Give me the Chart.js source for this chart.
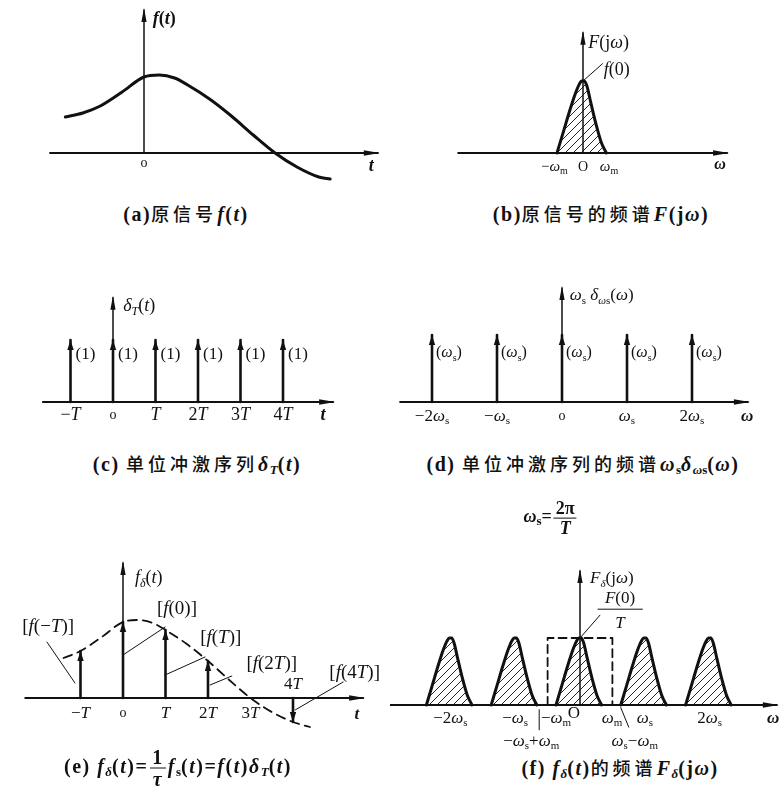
<!DOCTYPE html>
<html>
<head>
<meta charset="utf-8">
<script src="https://cdn.jsdelivr.net/npm/chart.js@4/dist/chart.umd.min.js"></script>
<style>
  body { margin: 0; background: #fff; }
  #page { position: relative; width: 782px; height: 791px; overflow: hidden; background: #fff; }
  canvas { position: absolute; }
  .cap { position: absolute; transform: translate(-50%, -50%); white-space: nowrap; color: #111;
         font-family: "Liberation Serif", serif; font-size: 20px; font-weight: bold; letter-spacing: 1.5px; }
  .cap .zh { font-family: "Noto Sans CJK SC", sans-serif; font-size: 18px; letter-spacing: 4px; font-weight: 500; }
  .cap i { font-style: italic; }
  .cap sub { font-size: 13px; vertical-align: -3px; letter-spacing: 0; }
  .frac { display: inline-block; vertical-align: middle; text-align: center; line-height: 1.05; margin: 0 2px; }
  .frac span { display: block; }
  .frac .num { border-bottom: 1px solid #111; padding: 0 2px; }
</style>
</head>
<body>
<div id="page">
  <canvas id="ca" width="390" height="195" style="left:0;top:0"></canvas>
  <canvas id="cb" width="392" height="195" style="left:390px;top:0"></canvas>
  <canvas id="cc" width="390" height="195" style="left:0;top:240px"></canvas>
  <canvas id="cd" width="392" height="195" style="left:390px;top:240px"></canvas>
  <canvas id="ce" width="390" height="230" style="left:0;top:520px"></canvas>
  <canvas id="cf" width="392" height="230" style="left:390px;top:520px"></canvas>

  <div class="cap" style="left:186px;top:213px">(a)<span class="zh">原信号</span><i>f</i>(<i>t</i>)</div>
  <div class="cap" style="left:601px;top:213px">(b)<span class="zh">原信号的频谱</span><i>F</i>(j<i>ω</i>)</div>
  <div class="cap" style="left:197px;top:464px">(c) <span class="zh">单位冲激序列</span><i>δ</i><sub><i>T</i></sub>(<i>t</i>)</div>
  <div class="cap" style="left:583px;top:464px">(d) <span class="zh">单位冲激序列的频谱</span><i>ω</i><sub>s</sub><i>δ</i><sub><i>ω</i>s</sub>(<i>ω</i>)</div>
  <div class="cap" style="left:551px;top:518px;font-size:18px;letter-spacing:0"><i>ω</i><sub>s</sub>=<span class="frac"><span class="num">2π</span><span><i>T</i></span></span></div>
  <div class="cap" style="left:178px;top:768px">(e) <i>f</i><sub><i>δ</i></sub>(<i>t</i>)=<span class="frac"><span class="num">1</span><span><i>τ</i></span></span><i>f</i><sub>s</sub>(<i>t</i>)=<i>f</i>(<i>t</i>)<i>δ</i><sub><i>T</i></sub>(<i>t</i>)</div>
  <div class="cap" style="left:620px;top:768px">(f) <i>f</i><sub><i>δ</i></sub>(<i>t</i>)<span class="zh">的频谱</span><i>F</i><sub><i>δ</i></sub>(j<i>ω</i>)</div>
</div>
<script>
const INK = "#111";

// original signal f(t), t in units of T
const curveT = [-1.8, -1.4, -1.0, -0.5, 0, 0.35, 0.7, 1.0, 1.5, 2.0, 2.5, 3.0, 3.5, 4.0, 4.4];
const curveF = [36, 40, 47, 61, 76, 78, 75, 68, 54, 37, 18, 0, -14, -24, -29];

// spectrum bump F(jw), w in units of wm, height in units of F(0)
const bumpW = [-1.0, -0.75, -0.5, -0.3, -0.15, -0.05, 0.05, 0.15, 0.3, 0.5, 0.7, 0.9];
const bumpF = [0, 0.3, 0.6, 0.82, 0.95, 1.0, 1.0, 0.93, 0.7, 0.4, 0.15, 0];

// unit impulse train
const combT = [-1, 0, 1, 2, 3, 4];
const combV = [1, 1, 1, 1, 1, 1];
const combTicks = ["−T", "o", "T", "2T", "3T", "4T"];

// spectrum of the impulse train (units of ws)
const lineK = [-2, -1, 0, 1, 2];
const lineV = [1, 1, 1, 1, 1];
const lineTicks = ["−2ω_s", "−ω_s", "o", "ω_s", "2ω_s"];

// samples f(nT)
const sampT = [-1, 0, 1, 2, 3, 4];
const sampF = [47, 76, 68, 37, 0, -24];
const sampTicks = ["−T", "o", "T", "2T", "3T"];

// sampled spectrum: copies every ws (ws in units of wm)
const ws = 2.7;
const repK = [-2, -1, 0, 1, 2];
const fTicks = [-2 * ws, -ws, -1, 0, 1, ws, 2 * ws];
const fTickLabels = ["−2ω_s", "−ω_s", "−ω_m", "O", "ω_m", "ω_s", "2ω_s"];

// ---------- drawing helpers ----------
const ITAL = /[A-Za-zωδτ]/;
function parseMath(s) {
  const segs = [];
  let i = 0;
  while (i < s.length) {
    let sub = false, ch;
    if (s[i] === "_") {
      sub = true; i++;
      if (s[i] === "{") { const j = s.indexOf("}", i); ch = s.slice(i + 1, j); i = j + 1; }
      else { ch = s[i]; i++; }
    } else { ch = s[i]; i++; }
    for (const c of ch) {
      let it = ITAL.test(c) && !"jOo".includes(c);
      if (sub && !"Tδω".includes(c)) it = false;
      segs.push({ c, sub, it });
    }
  }
  return segs;
}
function drawMath(ctx, s, x, y, size, align, bold) {
  const segs = parseMath(s);
  const fontOf = g => (g.it ? "italic " : "") + (bold ? "bold " : "") +
    (g.sub ? Math.round(size * 0.64) : size) + 'px "Liberation Serif"';
  let w = 0;
  segs.forEach(g => { ctx.font = fontOf(g); g.w = ctx.measureText(g.c).width; w += g.w; });
  let cx = align === "center" ? x - w / 2 : align === "right" ? x - w : x;
  ctx.textAlign = "left";
  ctx.textBaseline = "alphabetic";
  const base = y + size * 0.33;
  segs.forEach(g => {
    ctx.font = fontOf(g);
    ctx.fillText(g.c, cx, base + (g.sub ? size * 0.22 : 0));
    cx += g.w;
  });
}
function seg(ctx, x1, y1, x2, y2, w) {
  ctx.lineWidth = w;
  ctx.beginPath(); ctx.moveTo(x1, y1); ctx.lineTo(x2, y2); ctx.stroke();
}
function arrow(ctx, x, y, dx, dy, len, half) {
  ctx.beginPath();
  ctx.moveTo(x, y);
  ctx.lineTo(x - dx * len - dy * half, y - dy * len + dx * half);
  ctx.lineTo(x - dx * len + dy * half, y - dy * len - dx * half);
  ctx.closePath(); ctx.fill();
}

function sketchPlugin(o) {
  return {
    id: "sketch",
    afterDatasetsDraw(chart) {
      const ctx = chart.ctx;
      const X = v => chart.scales.x.getPixelForValue(v);
      const Y = v => chart.scales.y.getPixelForValue(v);
      ctx.save();
      ctx.strokeStyle = INK; ctx.fillStyle = INK; ctx.lineCap = "round";
      // axes
      seg(ctx, X(o.xAxis[0]), Y(0), X(o.xAxis[1]), Y(0), 2);
      arrow(ctx, X(o.xAxis[1]) + 2, Y(0), 1, 0, 16, 2.8);
      seg(ctx, X(0), Y(o.yAxis[0]), X(0), Y(o.yAxis[1]), 1.5);
      arrow(ctx, X(0), Y(o.yAxis[1]) - 2, 0, -1, 14, 2.6);
      // impulses
      if (o.imp) {
        o.imp.xs.forEach((t, i) => {
          const v = o.imp.vs[i];
          if (!v) return;
          const d = v > 0 ? -1 : 1;
          seg(ctx, X(t), Y(0), X(t), Y(v), 2.6);
          arrow(ctx, X(t), Y(v), 0, d, 10, 3.2);
        });
      }
      // leader lines
      (o.leaders || []).forEach(l => seg(ctx, X(l[0]), Y(l[1]), X(l[2]), Y(l[3]), l[4] || 1));
      // tick labels
      (o.ticks || []).forEach(t => drawMath(ctx, t.s, X(t.x) + (t.dx || 0), Y(0) + t.dy, t.size || 16, "center", t.bold));
      // notes
      (o.notes || []).forEach(n => drawMath(ctx, n.s, X(n.x) + (n.dx || 0), Y(n.y), n.size || 16, n.align || "left", n.bold));
      ctx.restore();
    }
  };
}

function hatch(canvas) {
  const p = document.createElement("canvas");
  p.width = p.height = 8;
  const g = p.getContext("2d");
  g.strokeStyle = INK; g.lineWidth = 0.9;
  g.beginPath();
  g.moveTo(0, 8); g.lineTo(8, 0);
  g.moveTo(-1, 1); g.lineTo(1, -1);
  g.moveTo(7, 9); g.lineTo(9, 7);
  g.stroke();
  return canvas.getContext("2d").createPattern(p, "repeat");
}

const xy = (xs, ys, dx = 0) => xs.map((x, i) => ({ x: x + dx, y: ys[i] }));
function lineDs(data, extra) {
  return Object.assign({ data, showLine: true, pointRadius: 0, borderColor: INK, borderWidth: 3,
    tension: 0, fill: false, borderCapStyle: "round", borderJoinStyle: "round" }, extra);
}

function panel(id, g, datasets, sk) {
  const c = document.getElementById(id);
  const w = c.width, h = c.height;
  new Chart(c, {
    type: "scatter",
    data: { datasets: datasets(c) },
    options: {
      responsive: false, animation: false, events: [],
      layout: { padding: 0 },
      plugins: { legend: { display: false }, tooltip: { enabled: false } },
      scales: {
        x: { type: "linear", display: false, min: -g.ox / g.ux, max: (w - g.ox) / g.ux },
        y: { type: "linear", display: false, min: -(h - g.oy) / g.uy, max: g.oy / g.uy }
      }
    },
    plugins: [sketchPlugin(sk)]
  });
}

// (a) original signal
panel("ca", { ox: 144, oy: 153, ux: 43.7, uy: 1 },
  () => [lineDs(xy(curveT.slice(0, 14), curveF.slice(0, 14)).concat([{ x: 4.26, y: -26 }]), { cubicInterpolationMode: "monotone" })],
  {
    xAxis: [-2.15, 5.35], yAxis: [0, 143],
    ticks: [{ x: 0, s: "o", dy: 9, size: 14 }, { x: 5.2, s: "t", dy: 12, size: 18, bold: true }],
    notes: [{ x: 0.2, y: 135, s: "f(t)", size: 18, bold: true }]
  });

// (b) spectrum of the original signal
panel("cb", { ox: 193, oy: 153, ux: 26, uy: 72 },
  c => [lineDs(xy(bumpW, bumpF), { cubicInterpolationMode: "monotone", fill: "origin", backgroundColor: hatch(c) })],
  {
    xAxis: [-4.8, 5.54], yAxis: [0, 1.67],
    ticks: [{ x: -1.1, s: "−ω_m", dy: 13, size: 15 }, { x: 0, s: "O", dy: 13, size: 14 },
            { x: 1.0, s: "ω_m", dy: 13, size: 15 }, { x: 5.27, s: "ω", dy: 11, size: 16, bold: true }],
    notes: [{ x: 0.2, y: 1.54, s: "F(jω)", size: 18 }, { x: 0.8, y: 1.16, s: "f(0)", size: 18 }],
    leaders: [[0, 1, 0.75, 1.24]]
  });

// (c) unit impulse train
panel("cc", { ox: 113, oy: 162, ux: 42.5, uy: 62 },
  () => [],
  {
    xAxis: [-1.65, 5.18], yAxis: [0, 1.68],
    imp: { xs: combT, vs: combV },
    ticks: combT.map((t, i) => ({ x: t, s: combTicks[i], dy: 12, size: i === 1 ? 14 : 18 }))
      .concat([{ x: 4.94, s: "t", dy: 12, size: 18, bold: true }]),
    notes: combT.map((t, i) => ({ x: t, y: combV[i] * 0.79, s: "(1)", dx: 5, size: 17 }))
      .concat([{ x: 0.24, y: 1.56, s: "δ_T(t)", size: 18 }])
  });

// (d) spectrum of the impulse train
panel("cd", { ox: 172, oy: 162, ux: 65, uy: 67 },
  () => [],
  {
    xAxis: [-2.49, 2.86], yAxis: [0, 1.7],
    imp: { xs: lineK, vs: lineV },
    ticks: lineK.map((k, i) => ({ x: k, s: lineTicks[i], dy: 13, size: i === 2 ? 14 : 17 }))
      .concat([{ x: 2.85, s: "ω", dy: 13, size: 17, bold: true }]),
    notes: lineK.map((k, i) => ({ x: k, y: lineV[i] * 0.75, s: "(ω_s)", dx: 4, size: 16 }))
      .concat([{ x: 0.12, y: 1.6, s: "ω_s δ_{ωs}(ω)", size: 17 }])
  });

// (e) sampled signal
panel("ce", { ox: 123, oy: 178, ux: 42.5, uy: 1 },
  () => [lineDs(xy(curveT, curveF).filter(p => p.x > -1.7), { borderWidth: 1.8, borderDash: [9, 6], cubicInterpolationMode: "monotone" })],
  {
    xAxis: [-2.3, 5.65], yAxis: [0, 135],
    imp: { xs: sampT, vs: sampF },
    ticks: sampTicks.map((s, i) => ({ x: sampT[i], s, dy: 14, size: i === 1 ? 14 : 17 }))
      .concat([{ x: 5.5, s: "t", dy: 15, size: 17, bold: true }]),
    notes: [
      { x: 0.28, y: 121, s: "f_δ(t)", size: 18 },
      { x: 4, y: 15, s: "4T", size: 17, align: "center" },
      { x: -1.76, y: 72, s: "[f(−T)]", size: 19, align: "center" },
      { x: 1.27, y: 90, s: "[f(0)]", size: 19, align: "center" },
      { x: 2.3, y: 61, s: "[f(T)]", size: 19, align: "center" },
      { x: 3.5, y: 35, s: "[f(2T)]", size: 19, align: "center" },
      { x: 5.45, y: 26, s: "[f(4T)]", size: 19, align: "center" }
    ],
    leaders: [[-1.79, 56, -1.13, 15], [0, 43, 0.99, 71], [0.99, 23, 1.93, 41],
              [2.05, 13, 2.56, 22], [4.05, -12, 5.18, 16]]
  });

// (f) spectrum of the sampled signal
panel("cf", { ox: 190, oy: 185, ux: 24, uy: 67 },
  c => {
    const pat = hatch(c);
    return repK.map(k => lineDs(xy(bumpW, bumpF, k * ws), { cubicInterpolationMode: "monotone", fill: "origin", backgroundColor: pat }))
      .concat([lineDs([{ x: -ws / 2, y: 0 }, { x: -ws / 2, y: 1 }, { x: ws / 2, y: 1 }, { x: ws / 2, y: 0 }],
        { borderWidth: 1.8, borderDash: [8, 5] })]);
  },
  {
    xAxis: [-7.9, 8.2], yAxis: [0, 2.0],
    ticks: fTicks.map((x, i) => ({ x, s: fTickLabels[i], dy: i === 3 ? 7 : 12, dx: i === 3 ? -6 : i === 4 ? 8 : 0, size: 17 }))
      .concat([{ x: 8.05, s: "ω", dy: 12, size: 17, bold: true },
               { x: -ws + 1, s: "−ω_s+ω_m", dy: 35, dx: -8, size: 17 },
               { x: ws - 1, s: "ω_s−ω_m", dy: 35, dx: 14, size: 17 }]),
    notes: [
      { x: 0.42, y: 1.9, s: "F_δ(jω)", size: 17 },
      { x: 1.67, y: 1.6, s: "F(0)", size: 17, align: "center" },
      { x: 1.67, y: 1.23, s: "T", size: 17, align: "center" }
    ],
    leaders: [[0, 1, 0.83, 1.34], [0.75, 1.43, 2.6, 1.43], [-ws + 1, -0.07, -ws + 1, -0.37],
              [ws - 1, -0.04, ws - 1 + 0.33, -0.33]]
  });
</script>
</body>
</html>
